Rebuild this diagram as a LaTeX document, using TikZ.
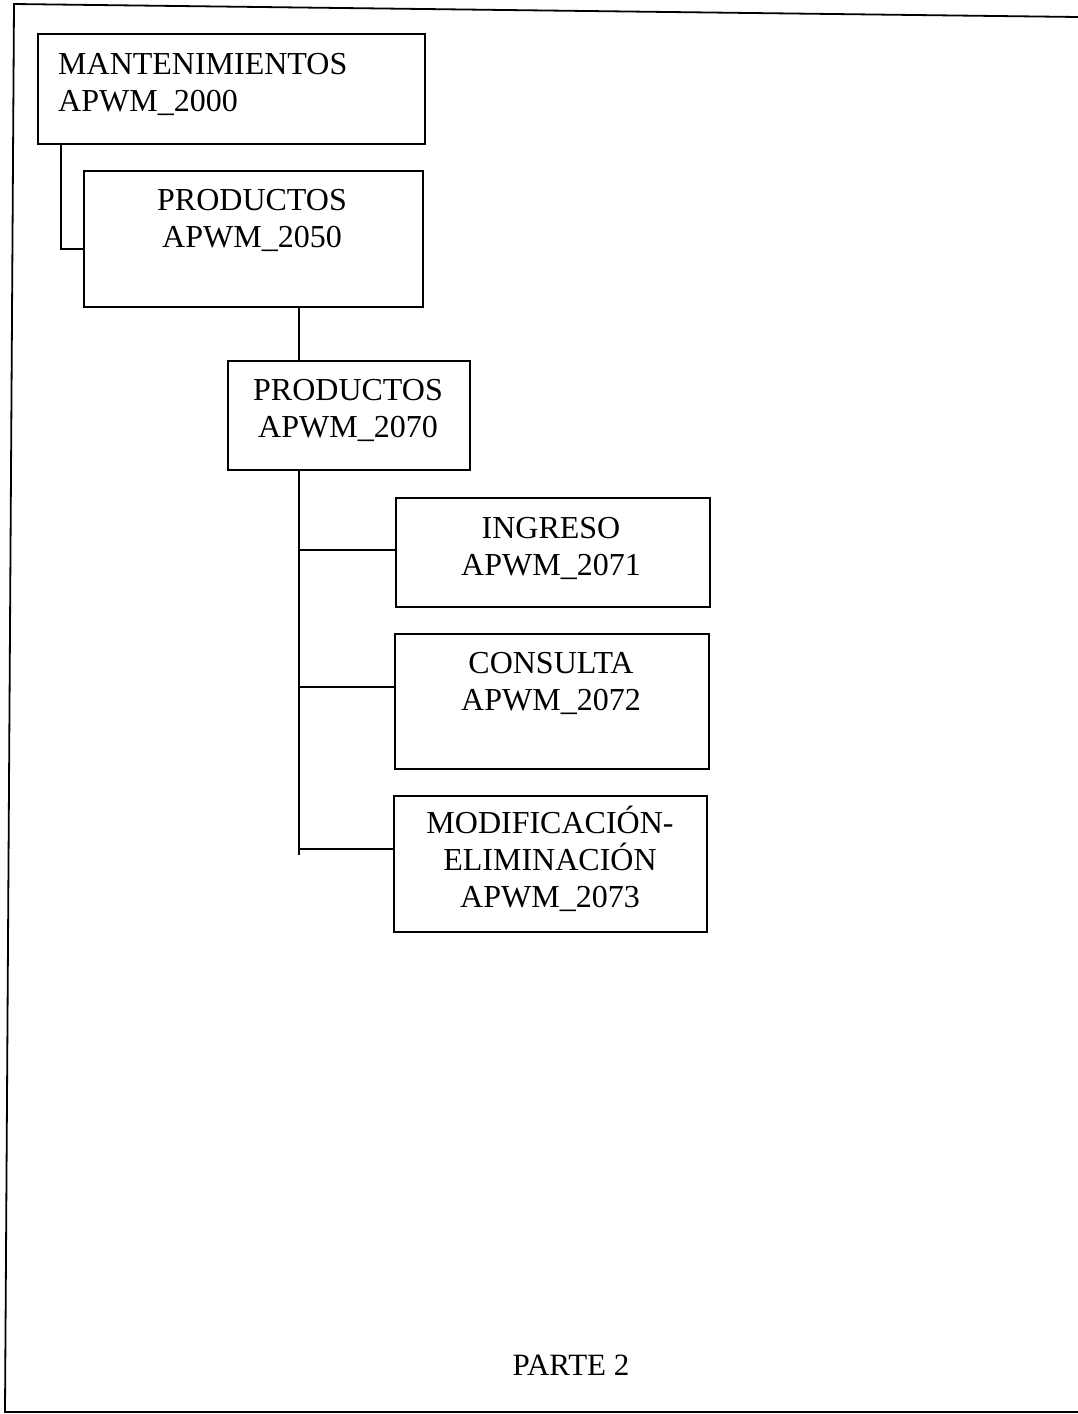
\documentclass[tikz,border=0pt]{standalone}
\usepackage{fontspec}
\setmainfont{Liberation Serif}
\usetikzlibrary{calc}
\begin{document}
\begin{tikzpicture}[x=1pt,y=-1pt,
  box/.style={draw, line width=1.6pt, inner sep=0pt, anchor=north west},
  txt/.style={inner sep=0pt, font=\fontsize{32}{37}\selectfont, align=center, anchor=north},
  conn/.style={line width=1.6pt}]
\useasboundingbox (0,0) rectangle (1078,1414);
% frame
\coordinate (ftl) at (14,4);
\coordinate (ftr) at (1078,17);
\coordinate (fbl) at (5,1412);
\coordinate (fbr) at (1078,1412);
\draw[line width=1.8pt] (ftr) -- (ftl) -- (fbl) -- (fbr);
% boxes
\node[box, minimum width=387pt, minimum height=110pt] (b1) at (37,33) {};
\node[box, minimum width=339pt, minimum height=136pt] (b2) at (83,170) {};
\node[box, minimum width=242pt, minimum height=109pt] (b3) at (227,360) {};
\node[box, minimum width=314pt, minimum height=109pt] (b4) at (395,497) {};
\node[box, minimum width=314pt, minimum height=135pt] (b5) at (394,633) {};
\node[box, minimum width=313pt, minimum height=136pt] (b6) at (393,795) {};
% texts
\node[txt, align=left, anchor=north west] (t1) at (58,53) {MANTENIMIENTOS\\APWM\_2000};
\node[txt] (t2) at (252,189) {PRODUCTOS\\APWM\_2050};
\node[txt] (t3) at (348,379) {PRODUCTOS\\APWM\_2070};
\node[txt] (t4) at (551,517) {INGRESO\\APWM\_2071};
\node[txt] (t5) at (551,652) {CONSULTA\\APWM\_2072};
\node[txt] (t6) at (550,806) {MODIFICACIÓN-\\ELIMINACIÓN\\APWM\_2073};
\node[inner sep=0pt, font=\fontsize{31}{36}\selectfont, anchor=base] (parte) at (571,1375) {PARTE 2};
% connectors
\draw[conn] ($(b1.south west)+(24,0)$) |- ($(b2.west)+(0,10)$);
\coordinate (bus) at (299,0);
\coordinate (busend) at (299,855);
\draw[conn] (b2.south -| bus) -- (b3.north -| bus);
\draw[conn] (b3.south -| bus) -- (busend);
\draw[conn] ($(b4.west)+(0,-2.5)$) -- ($(b4.west -| bus)+(0,-2.5)$);
\draw[conn] ($(b5.west)+(0,-14.5)$) -- ($(b5.west -| bus)+(0,-14.5)$);
\draw[conn] ($(b6.west)+(0,-15)$) -- ($(b6.west -| bus)+(0,-15)$);
\end{tikzpicture}
\end{document}
